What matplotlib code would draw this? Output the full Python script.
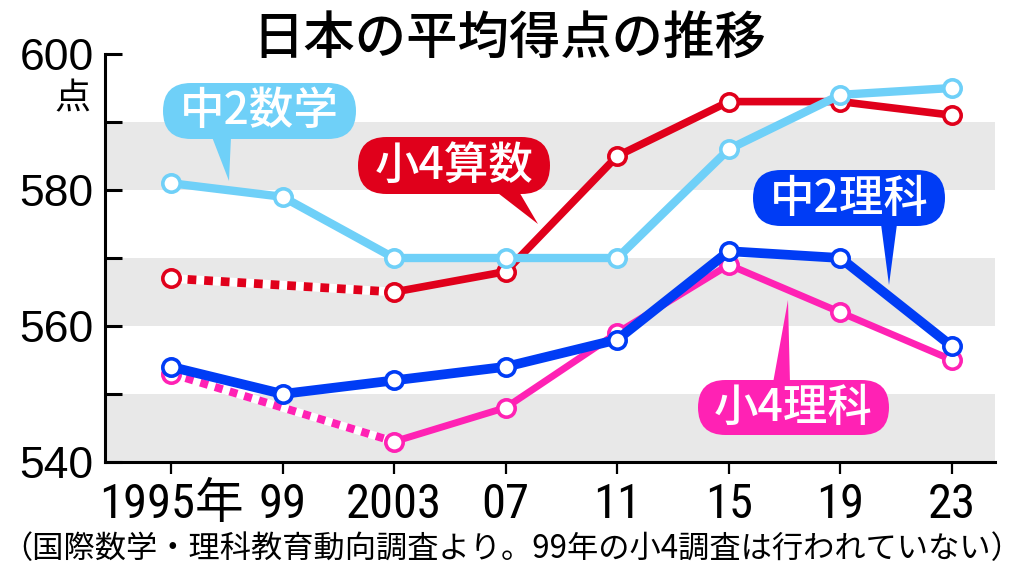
import numpy as np
import matplotlib
matplotlib.use("Agg")
import matplotlib.pyplot as plt
from matplotlib.patches import FancyBboxPatch, Polygon
from matplotlib.transforms import Affine2D

# ---------------- data ----------------
years = ["1995年", "99", "2003", "07", "11", "15", "19", "23"]
math8 = [581, 579, 570, 570, 570, 586, 594, 595]      # 中2数学
math4 = [567, None, 565, 568, 585, 593, 593, 591]     # 小4算数
sci8 = [554, 550, 552, 554, 558, 571, 570, 557]       # 中2理科
sci4 = [553, None, 543, 548, 559, 569, 562, 555]      # 小4理科
series_names = ["小4理科", "中2理科", "小4算数", "中2数学"]
title = "日本の平均得点の推移"
unit = "点"
note = "（国際数学・理科教育動向調査より。99年の小4調査は行われていない）"
yticks_major = [540, 560, 580, 600]
yticks_minor = [550, 570, 590]
bands = [(540, 550), (560, 570), (580, 590)]

# ---------------- fonts ----------------
CJK = "Noto Sans CJK JP"
plt.rcParams["font.family"] = [CJK, "DejaVu Sans"]

W, H, DPI = 1024, 579, 100
fig = plt.figure(figsize=(W / DPI, H / DPI), dpi=DPI)
px = Affine2D().scale(1 / DPI, -1 / DPI).translate(0, H / DPI) + fig.dpi_scale_trans

ax_l, ax_r, ax_b, ax_t = 105, 995, 462, 54
ax = fig.add_axes([ax_l / W, 1 - ax_b / H, (ax_r - ax_l) / W, (ax_b - ax_t) / H])

x = np.arange(len(years))
x0, x7 = 171, 952
step = (x7 - x0) / 7
ax.set_xlim((ax_l - x0) / step, (ax_r - x0) / step)
ax.set_ylim(540, 600)

for lo, hi in bands:
    ax.axhspan(lo, hi, color="#E8E8E8", lw=0, zorder=0)

for s in ["top", "right"]:
    ax.spines[s].set_visible(False)
for s in ["left", "bottom"]:
    ax.spines[s].set_linewidth(2.2)

ax.set_yticks(yticks_major)
ax.set_yticks(yticks_minor, minor=True)
ax.set_yticklabels([str(v) for v in yticks_major], fontfamily="Liberation Sans", fontsize=32)
ax.tick_params(axis="y", which="both", direction="in", length=12, width=2.2, pad=8)
ax.set_xticks(x)
ax.set_xticklabels(years, fontsize=35, fontfamily=["Roboto Condensed", CJK], fontweight=400)
ax.tick_params(axis="x", direction="out", length=8.5, width=1.6, pad=6)

colors = {"中2数学": "#6FD0F8", "小4算数": "#E0001B", "中2理科": "#003CF5", "小4理科": "#FF22B4"}
lws = {"中2数学": 6.0, "小4算数": 5.5, "中2理科": 7.0, "小4理科": 5.0}
data = {"中2数学": math8, "小4算数": math4, "中2理科": sci8, "小4理科": sci4}
zs = {"小4理科": 2, "中2理科": 3, "小4算数": 4, "中2数学": 5}

for name in series_names:
    vals = np.array([np.nan if v is None else v for v in data[name]], dtype=float)
    c, lw, z = colors[name], lws[name], zs[name]
    valid = ~np.isnan(vals)
    if np.isnan(vals[1]):
        # dotted segment across the missing survey
        dx, dy = x[[0, 2]], vals[[0, 2]]
        dlw = lw + 0.8
        ax.plot(dx, dy, color="white", lw=dlw, solid_capstyle="butt", zorder=z)
        ax.plot(dx, dy, color=c, lw=dlw, linestyle=(0, (1.0, 0.9)), dash_capstyle="butt", zorder=z)
        sx, sy = x[2:], vals[2:]
    else:
        sx, sy = x, vals
    ax.plot(sx, sy, color=c, lw=lw, solid_joinstyle="miter", zorder=z)
    ax.plot(x[valid], vals[valid], linestyle="none", marker="o", ms=12.5, mew=2.6,
            mfc="white", mec=c, zorder=z + 0.5)

# labels with pointers (pixel layout)
label_boxes = {
    "中2数学": ((163, 83, 356, 139), [(212, 137), (231, 137), (229, 181)]),
    "小4算数": ((358, 137, 550, 194), [(494, 190), (518, 190), (538, 224)]),
    "中2理科": ((753, 170, 945, 226), [(881, 224), (897, 224), (889, 285)]),
    "小4理科": ((698, 380, 889, 435), [(773, 383), (790, 383), (788, 300)]),
}
for name, ((l, t, r, b), tri) in label_boxes.items():
    c = colors[name]
    h = b - t
    fig.patches.append(FancyBboxPatch((l, t), r - l, h, boxstyle=f"round,pad=0,rounding_size={h/2}",
                                      transform=px, fc=c, ec="none", zorder=10))
    fig.patches.append(Polygon(tri, closed=True, transform=px, fc=c, ec="none", zorder=10))
    fig.text((l + r) / 2, (t + b) / 2 + 1, name, transform=px, ha="center", va="center",
             color="white", fontsize=32, fontweight=500, zorder=11)

fig.text(509, 39, title, transform=px, ha="center", va="center", fontsize=37, fontweight=500)
fig.text(73, 99, unit, transform=px, ha="center", va="center", fontsize=26)
fig.text(512, 549, note, transform=px, ha="center", va="center", fontsize=22.5)

fig.savefig("out.png", dpi=DPI)
